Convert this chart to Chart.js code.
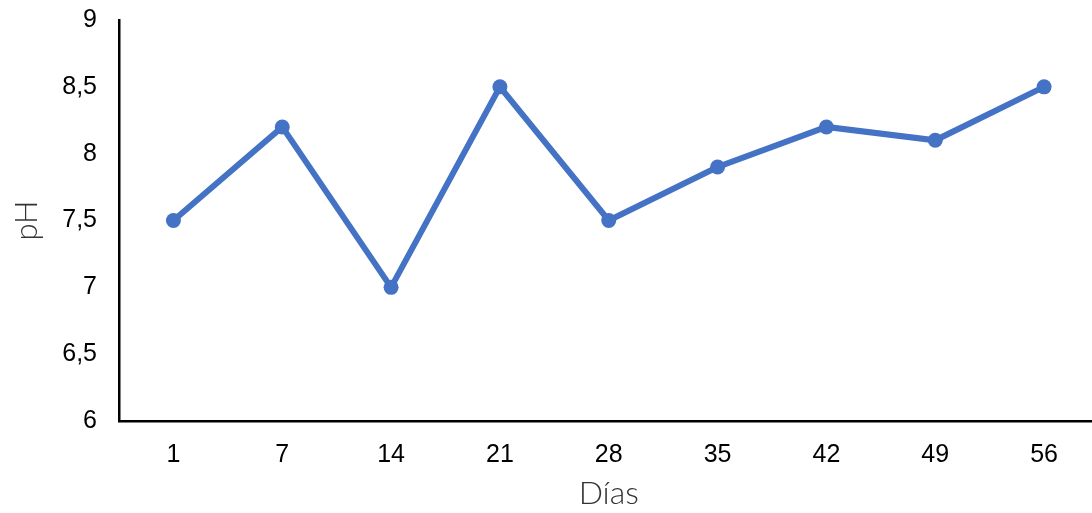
<!DOCTYPE html>
<html>
<head>
<meta charset="utf-8">
<script src="https://cdn.jsdelivr.net/npm/chart.js@4"></script>
<style>
  html, body { margin: 0; padding: 0; background: #fff; overflow: hidden; }
  #wrap { width: 1106px; height: 513px; position: relative; }
</style>
</head>
<body>
<div id="wrap"><canvas id="c" width="1106" height="513"></canvas></div>
<script>
// Días de muestreo
const dias = ['1', '7', '14', '21', '28', '35', '42', '49', '56'];
// pH medido en cada día
const valoresPH = [7.5, 8.2, 7.0, 8.5, 7.5, 7.9, 8.2, 8.1, 8.5];
// Límites y paso del eje vertical
const phMin = 6;
const phMax = 9;
const phPaso = 0.5;

const fijarAncho = (w) => (scale) => {
  scale.width = w;
  scale.paddingTop = 0;
  scale.paddingBottom = 0;
};
const fijarAlto = (h) => (scale) => {
  scale.height = h;
  scale.paddingLeft = 0;
  scale.paddingRight = 0;
};

new Chart(document.getElementById('c'), {
  type: 'line',
  data: {
    labels: dias,
    datasets: [{
      data: valoresPH,
      borderColor: '#4472C4',
      backgroundColor: '#4472C4',
      borderWidth: 6,
      pointRadius: 7.5,
      pointHoverRadius: 7.5,
      pointBorderWidth: 0,
      tension: 0,
      clip: false
    }]
  },
  options: {
    responsive: false,
    animation: false,
    devicePixelRatio: 1,
    layout: { padding: { top: 20, right: 0, left: 0, bottom: 0 } },
    plugins: { legend: { display: false }, tooltip: { enabled: false } },
    scales: {
      x: {
        offset: true,
        grid: { display: false, drawTicks: false },
        border: { display: true, color: '#000', width: 2.5 },
        ticks: { color: '#000', font: { family: 'Liberation Sans', size: 25 }, padding: 19 },
        title: {
          display: true, text: 'Días', color: '#333',
          font: { family: 'Lato', size: 32, weight: '300' },
          padding: { top: 0, bottom: 0 }
        },
        afterFit: fijarAlto(92)
      },
      y: {
        min: phMin, max: phMax,
        grid: { display: false, drawTicks: false },
        border: { display: true, color: '#000', width: 2.5 },
        ticks: {
          stepSize: phPaso, color: '#000', padding: 22,
          font: { family: 'Liberation Sans', size: 25 },
          callback: (v) => String(v).replace('.', ',')
        },
        title: {
          display: true, text: 'pH', color: '#333',
          font: { family: 'Lato', size: 31, weight: '300' },
          padding: { top: 8, bottom: 0 }
        },
        afterFit: fijarAncho(119)
      }
    }
  }
});
</script>
</body>
</html>
